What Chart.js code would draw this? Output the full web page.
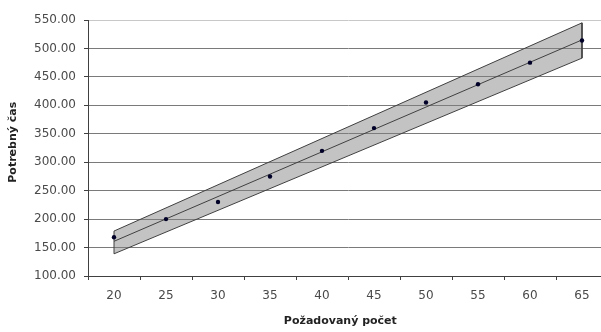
<!DOCTYPE html>
<html>
<head>
<meta charset="utf-8">
<script src="https://cdn.jsdelivr.net/npm/chart.js@4/dist/chart.umd.min.js"></script>
<style>
    html, body { margin: 0; padding: 0; background: #ffffff; overflow: hidden; }
    #wrap { width: 601px; height: 332px; overflow: hidden; }
</style>
</head>
<body>
<div id="wrap">
    <canvas id="chart" width="620" height="332"></canvas>
</div>
<script>
// Categories on the x axis (Požadovaný počet)
const counts = ['20', '25', '30', '35', '40', '45', '50', '55', '60', '65'];
// Measured times (Potrebný čas)
const times = [168, 200, 230, 275, 320, 360, 405, 437, 475, 514];
// Fitted line, read at both ends
const fitX = ['20', '65'];
const fitY = [161, 515];
// Band edges, read at both ends
const bandX = ['20', '65'];
const bandUpper = [179, 545];
const bandLower = [139, 483];
// Y axis range
const yMin = 100;
const yMax = 550;
const yStep = 50;

const axisColor = '#404040';
const gridColor = '#7a7a7a';
const labelFont = { family: 'DejaVu Sans', size: 12 };
const titleFont = { family: 'DejaVu Sans', size: 11, weight: 'bold' };
const nb = '\u00a0';

// Band polygon: upper edge forward, lower edge back, closed
const bandPoly = [];
bandX.forEach((x, i) => bandPoly.push({ x: x, y: bandUpper[i] }));
for (let i = bandX.length - 1; i >= 0; i--) bandPoly.push({ x: bandX[i], y: bandLower[i] });
bandPoly.push({ x: bandX[0], y: bandUpper[0] });

new Chart(document.getElementById('chart'), {
    type: 'line',
    data: {
        labels: counts,
        datasets: [
            {
                // points on top
                data: times,
                showLine: false,
                pointRadius: 2.2,
                pointBackgroundColor: '#000028',
                pointBorderColor: '#000028',
                pointBorderWidth: 0
            },
            {
                data: fitX.map((x, i) => ({ x: x, y: fitY[i] })),
                borderColor: axisColor,
                borderWidth: 1,
                pointRadius: 0,
                fill: false
            },
            {
                data: bandPoly,
                borderColor: axisColor,
                borderWidth: 1,
                backgroundColor: 'rgba(128,128,128,0.47)',
                pointRadius: 0,
                fill: 'shape'
            }
        ]
    },
    options: {
        responsive: false,
        animation: false,
        layout: { padding: { left: 0, top: 20, right: 12, bottom: 0 } },
        plugins: {
            legend: { display: false },
            tooltip: { enabled: false }
        },
        scales: {
            x: {
                type: 'category',
                offset: true,
                afterFit: (scale) => { scale.height = 56; },
                grid: {
                    offset: true,
                    drawOnChartArea: false,
                    drawTicks: true,
                    tickLength: 4,
                    color: axisColor,
                    tickColor: axisColor
                },
                border: { display: true, color: axisColor, width: 1 },
                ticks: {
                    autoSkip: false,
                    maxRotation: 0,
                    padding: 9,
                    color: '#4a4a4a',
                    font: labelFont
                },
                title: {
                    display: true,
                    // trailing spaces nudge the centred title left, as in the original
                    text: 'Požadovaný počet' + nb.repeat(4),
                    color: '#222222',
                    font: titleFont,
                    padding: { top: 0, bottom: 4 }
                }
            },
            y: {
                min: yMin,
                max: yMax,
                afterFit: (scale) => { scale.width = 88; },
                grid: {
                    color: (ctx) => (ctx.tick && ctx.tick.value === yMax) ? '#c8c8c8' : gridColor,
                    tickColor: axisColor,
                    tickLength: 4,
                    lineWidth: 1
                },
                border: { display: true, color: axisColor, width: 1 },
                ticks: {
                    stepSize: yStep,
                    padding: 8,
                    color: '#4a4a4a',
                    font: labelFont,
                    callback: (v) => Number(v).toFixed(2)
                },
                title: {
                    display: true,
                    text: nb.repeat(3) + 'Potrebný čas',
                    color: '#222222',
                    font: titleFont,
                    padding: { top: 7, bottom: 0 }
                }
            }
        }
    }
});
</script>
</body>
</html>
